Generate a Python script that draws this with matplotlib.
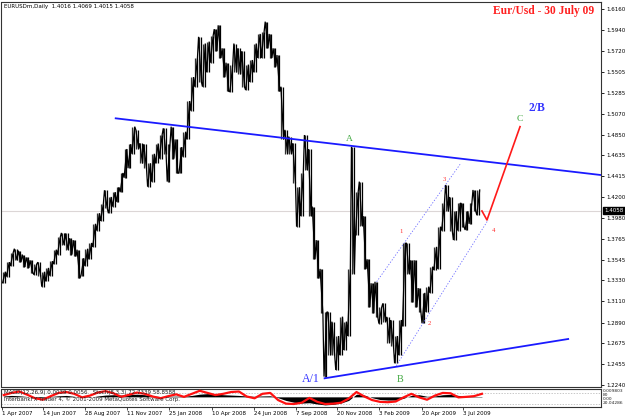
import matplotlib
matplotlib.use("Agg")
import matplotlib.pyplot as plt
import matplotlib.dates as mdates
import matplotlib.transforms as mtransforms
import pandas as pd
import numpy as np

# ---------------- data (weekly high / low) ----------------
week_start = "2007-04-01"
week_high = [1.3420, 1.3520, 1.3620, 1.3660, 1.3640, 1.3600, 1.3570, 1.3540, 1.3500, 1.3520,
             1.3420, 1.3460, 1.3530, 1.3650, 1.3780, 1.3825, 1.3820, 1.3770, 1.3750, 1.3650,
             1.3560, 1.3660, 1.3720, 1.3920, 1.4030, 1.4130, 1.4270, 1.4200, 1.4250, 1.4300,
             1.4450, 1.4700, 1.4750, 1.4933, 1.4900, 1.4760, 1.4750, 1.4550, 1.4650, 1.4757,
             1.4850, 1.4916, 1.4750, 1.4933, 1.4800, 1.4720, 1.4880, 1.5200, 1.5450, 1.5650,
             1.5870, 1.5800, 1.5820, 1.5880, 1.5950, 1.5990, 1.5750, 1.5600, 1.5580, 1.5800,
             1.5750, 1.5720, 1.5580, 1.5628, 1.5800, 1.5900, 1.5920, 1.6028, 1.5900, 1.5750,
             1.5680, 1.5350, 1.4900, 1.4830, 1.4760, 1.4300, 1.4450, 1.4846, 1.4700, 1.4100,
             1.3750, 1.3450, 1.3000, 1.3000, 1.2900, 1.2750, 1.2952, 1.2900, 1.3446, 1.4724,
             1.4250, 1.4360, 1.4000, 1.3550, 1.3300, 1.3316, 1.3050, 1.3090, 1.2950, 1.2917,
             1.2750, 1.2917, 1.3716, 1.3720, 1.3540, 1.3540, 1.3250, 1.3200, 1.3265, 1.3473,
             1.3680, 1.3890, 1.4134, 1.4325, 1.4200, 1.4050, 1.4134, 1.4134, 1.4050, 1.4134,
             1.4273, 1.4273]
week_low = [1.3305, 1.3370, 1.3480, 1.3540, 1.3520, 1.3470, 1.3460, 1.3410, 1.3390, 1.3380,
            1.3265, 1.3320, 1.3380, 1.3500, 1.3600, 1.3700, 1.3650, 1.3600, 1.3580, 1.3352,
            1.3380, 1.3480, 1.3550, 1.3680, 1.3850, 1.3950, 1.4080, 1.4030, 1.4100, 1.4150,
            1.4250, 1.4400, 1.4500, 1.4650, 1.4700, 1.4550, 1.4500, 1.4307, 1.4360, 1.4550,
            1.4600, 1.4650, 1.4360, 1.4600, 1.4450, 1.4447, 1.4620, 1.4800, 1.5100, 1.5350,
            1.5400, 1.5350, 1.5500, 1.5600, 1.5720, 1.5650, 1.5450, 1.5300, 1.5298, 1.5500,
            1.5480, 1.5350, 1.5315, 1.5400, 1.5500, 1.5650, 1.5650, 1.5750, 1.5650, 1.5560,
            1.5300, 1.4800, 1.4650, 1.4650, 1.4350, 1.3890, 1.4000, 1.4480, 1.4000, 1.3550,
            1.3350, 1.2987, 1.2327, 1.2550, 1.2550, 1.2396, 1.2550, 1.2604, 1.2750, 1.3400,
            1.3800, 1.3900, 1.3450, 1.3050, 1.2987, 1.2950, 1.2880, 1.2900, 1.2680, 1.2650,
            1.2466, 1.2550, 1.2850, 1.3400, 1.3100, 1.3050, 1.3000, 1.2883, 1.3000, 1.3200,
            1.3438, 1.3450, 1.3850, 1.4050, 1.3850, 1.3751, 1.3850, 1.3890, 1.3856, 1.3920,
            1.4050, 1.4010]
last_price = 1.4058
header = "EURUSDm,Daily  1.4016 1.4069 1.4015 1.4058"

# trend lines / channel / projection (date, price)
upper_tl_dates = ["2007-10-21", "2010-03-05"]
upper_tl_prices = [1.5020, 1.4429]
lower_tl_dates = ["2008-10-28", "2010-01-06"]
lower_tl_prices = [1.2309, 1.2719]
chan_up_dates = ["2009-01-29", "2009-06-27"]
chan_up_prices = [1.3316, 1.4541]
chan_lo_dates = ["2009-03-05", "2009-08-16"]
chan_lo_prices = [1.2440, 1.3960]
proj_dates = ["2009-08-05", "2009-08-14", "2009-10-12"]
proj_prices = [1.4054, 1.3960, 1.4933]

# wave labels: (text, date, price, color, size, weight)
wave_labels = [
    ("A/1", "2008-10-03", 1.2299, "#3434ff", 8.6, "normal"),
    ("B", "2009-03-12", 1.2299, "#40a840", 7.4, "normal"),
    ("A", "2008-12-11", 1.4807, "#40a840", 6.8, "normal"),
    ("C", "2009-10-12", 1.5010, "#40a840", 6.8, "normal"),
    ("2/B", "2009-11-12", 1.5125, "#3434ff", 8.4, "bold"),
    ("1", "2009-03-14", 1.3838, "#ff2a2a", 4.8, "normal"),
    ("2", "2009-05-03", 1.2883, "#ff2a2a", 4.8, "normal"),
    ("3", "2009-05-30", 1.4387, "#ff2a2a", 4.8, "normal"),
    ("4", "2009-08-25", 1.3848, "#ff2a2a", 4.8, "normal"),
]

price_ticks = [1.6160, 1.5940, 1.5720, 1.5505, 1.5285, 1.5070, 1.4850, 1.4635, 1.4415,
               1.4200, 1.3980, 1.3765, 1.3545, 1.3330, 1.3110, 1.2890, 1.2675, 1.2455, 1.2240]
price_tick_labels = ["1.6160", "1.5940", "1.5720", "1.5505", "1.5285", "1.5070", "1.4850",
                     "1.4635", "1.4415", "1.4200", "1.3980", "1.3765", "1.3545", "1.3330",
                     "1.3110", "1.2890", "1.2675", "1.2455", "1.2240"]
date_ticks = ["2007-04-01", "2007-06-14", "2007-08-28", "2007-11-11", "2008-01-25", "2008-04-10",
              "2008-06-24", "2008-09-07", "2008-11-20", "2009-02-03", "2009-04-20", "2009-07-03"]
date_tick_labels = ["1 Apr 2007", "14 Jun 2007", "28 Aug 2007", "11 Nov 2007", "25 Jan 2008",
                    "10 Apr 2008", "24 Jun 2008", "7 Sep 2008", "20 Nov 2008", "3 Feb 2009",
                    "20 Apr 2009", "3 Jul 2009"]

# indicator (bi-weekly readings)
ind_start = "2007-04-01"
stoch_red = [68, 80, 88, 70, 50, 42, 62, 80, 85, 75,
             55, 65, 82, 90, 78, 58, 70, 82, 75, 60,
             50, 62, 72, 58, 75, 92, 80, 68, 75, 85,
             88, 60, 50, 75, 80, 40, 20, 18, 25, 52,
             30, 18, 20, 25, 48, 85, 60, 40, 30, 28,
             32, 55, 75, 55, 42, 65, 80, 78, 55, 58,
             62, 75]
macd_hist = [5, 8, 6, 2, -3, -5, 2, 6, 8, 3,
             -4, -2, 5, 10, 12, 10, 12, 15, 12, 5,
             2, 3, 4, 3, 8, 15, 18, 16, 12, 10,
             8, 5, 3, 5, 6, -5, -20, -30, -35, -33,
             -40, -45, -42, -35, -20, 15, 10, -5, -15, -18,
             -18, -8, 8, 12, 3, 5, 12, 14, 8, 4,
             2, 2]
macd_zero = 58
ind_text1 = "MACD(12,26,9) 0.0039 0.0056   Stoch(8,3,3) 72.7339 58.8588"
ind_text2 = "InterbankFX Trader 4, \u00a9 2001-2009 MetaQuotes Software Corp."
ind_scale_labels = ["0.009803", "80", "0.00", "20.04286"]

# ---------------- figure ----------------
W, H = 625, 418
fig = plt.figure(figsize=(W / 100, H / 100), dpi=100)
fig.patch.set_facecolor("white")

def fx(px):
    return px / W

def fy(py):
    return 1 - py / H

ax = fig.add_axes([fx(1.5), fy(387), fx(599.5), (387 - 2) / H])
ax2 = fig.add_axes([fx(1.5), fy(406.5), fx(599.5), (406.5 - 389) / H])

t0 = mdates.date2num(pd.Timestamp("2007-04-01"))
xlim = (t0 - 0.9, t0 + 1069.6)

def p_of_y(py):
    return 1.6160 - (py - 9) / 959.0

small = dict(family="DejaVu Sans", fontsize=4)

# price bars: weekly high-low bars plus a zig-zag through each week's extremes
wk = pd.date_range(week_start, periods=len(week_high), freq="7D")
hi = np.array(week_high)
lo = np.array(week_low)
mid = (hi + lo) / 2
ax.axhline(last_price, color="#dcd6d6", lw=0.8, zorder=0)
ax.vlines(wk + pd.Timedelta(days=2), lo, hi, colors="#303030", lw=0.9, zorder=2)
ax.vlines(wk + pd.Timedelta(days=5), lo, hi, colors="black", lw=0.9, zorder=2)
zx, zy = [], []
for i in range(len(hi)):
    nxt = mid[i + 1] if i + 1 < len(hi) else mid[i]
    first, second = (lo[i], hi[i]) if nxt >= mid[i] else (hi[i], lo[i])
    zx += [wk[i] + pd.Timedelta(days=1), wk[i] + pd.Timedelta(days=6)]
    zy += [first, second]
ax.plot(zx, zy, color="black", lw=0.9, zorder=2, solid_joinstyle="miter")

# trend lines
ax.plot(pd.to_datetime(upper_tl_dates), upper_tl_prices, color="#1a1aff", lw=1.3, zorder=3)
ax.plot(pd.to_datetime(lower_tl_dates), lower_tl_prices, color="#1a1aff", lw=1.3, zorder=3)
ax.plot(pd.to_datetime(chan_up_dates), chan_up_prices, color="#6a6aff", lw=0.6,
        ls=(0, (1.5, 2)), zorder=3)
ax.plot(pd.to_datetime(chan_lo_dates), chan_lo_prices, color="#6a6aff", lw=0.6,
        ls=(0, (1.5, 2)), zorder=3)
ax.plot(pd.to_datetime(proj_dates), proj_prices, color="#ff1a1a", lw=1.2, zorder=3)

for txt, d, p, c, s, wgt in wave_labels:
    ax.text(pd.Timestamp(d), p, txt, color=c, fontsize=s, fontweight=wgt,
            family="Liberation Serif", ha="center", va="center", zorder=4)

ax.set_xlim(xlim)
ax.set_ylim(p_of_y(387), p_of_y(2))
ax.set_xticks([])
ax.yaxis.tick_right()
ax.set_yticks(price_ticks)
ax.set_yticklabels(price_tick_labels, **small)
ax.tick_params(axis="y", length=2, width=0.6, pad=1.5, colors="black")
for sp in ax.spines.values():
    sp.set_linewidth(0.8)
    sp.set_color("#333333")

trans = mtransforms.blended_transform_factory(ax.transAxes, ax.transData)
ax.text(1.006, last_price, "1.4058", transform=trans, color="white", ha="left", va="center",
        bbox=dict(facecolor="black", edgecolor="black", pad=0.8), zorder=5, clip_on=False,
        **small)

fig.text(fx(4), fy(6.5), header, ha="left", va="center", color="black", **small)
fig.text(fx(594), fy(11), "Eur/Usd - 30 July 09", ha="right", va="center", color="#ff2020",
         family="Liberation Serif", fontweight="bold", fontsize=8.3)

# indicator panel
idates = pd.date_range(ind_start, periods=len(stoch_red), freq="14D") + pd.Timedelta(days=3)
hist = np.array(macd_hist, dtype=float)
ax2.fill_between(idates, macd_zero, macd_zero + hist, color="black", lw=0, zorder=2)
ax2.axhline(80, color="#b0b0b0", lw=0.5, ls=(0, (2, 2)), zorder=1)
ax2.axhline(20, color="#b0b0b0", lw=0.5, ls=(0, (2, 2)), zorder=1)
ax2.plot(idates, stoch_red, color="#ff1010", lw=1.6, zorder=3)
ax2.text(0.004, 0.78, ind_text1, transform=ax2.transAxes, ha="left", va="center",
         color="#222222", zorder=4, **small)
ax2.text(0.004, 0.40, ind_text2, transform=ax2.transAxes, ha="left", va="center",
         color="#222222", zorder=4, **small)
ax2.set_xlim(xlim)
ax2.set_ylim(4, 102)
ax2.set_yticks([])
ax2.set_xticks(mdates.date2num(pd.to_datetime(date_ticks)))
ax2.set_xticklabels(date_tick_labels, ha="left", **small)
ax2.tick_params(axis="x", length=2, width=0.5, pad=1.5)
for sp in ax2.spines.values():
    sp.set_linewidth(0.8)
    sp.set_color("#333333")

for lab, py in zip(ind_scale_labels, [391, 394.8, 398.6, 402.6]):
    fig.text(fx(602.5), fy(py), lab, ha="left", va="center", color="#222222",
             family="DejaVu Sans", fontsize=3.2)

fig.savefig("out.png", dpi=100)
